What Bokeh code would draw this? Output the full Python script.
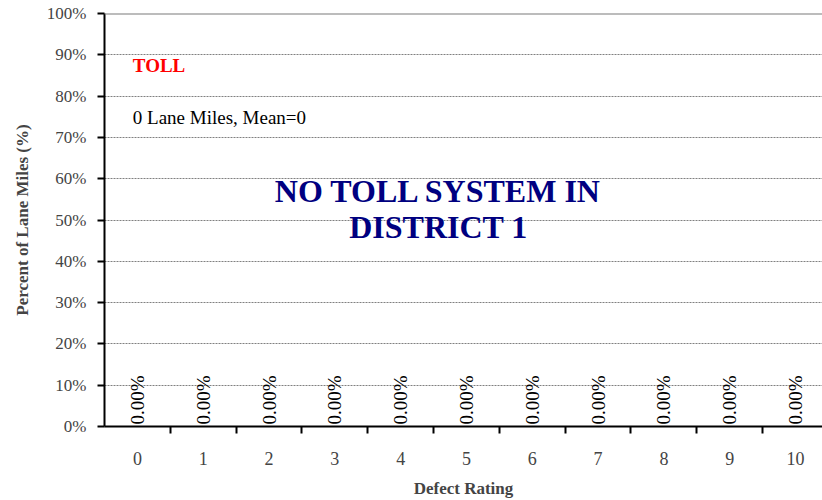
import math
from bokeh.plotting import figure
from bokeh.models import (ColumnDataSource, Range1d, FixedTicker, NumeralTickFormatter,
                          Label, Span)
from bokeh.core.properties import value
from bokeh.embed import file_html
from bokeh.resources import INLINE

# ---- data ----
ratings = [0, 1, 2, 3, 4, 5, 6, 7, 8, 9, 10]
percents = [0.0, 0.0, 0.0, 0.0, 0.0, 0.0, 0.0, 0.0, 0.0, 0.0, 0.0]
y_ticks = [0.0, 0.1, 0.2, 0.3, 0.4, 0.5, 0.6, 0.7, 0.8, 0.9, 1.0]
system_name = "TOLL"
lane_miles = 0
mean_rating = 0
note_lines = ["NO TOLL SYSTEM IN", "DISTRICT 1"]

FONT = "Liberation Serif"

labels = [f"{v * 100:.2f}%" for v in percents]
src = ColumnDataSource(dict(x=ratings, top=percents, lab=labels))

p = figure(width=822, height=500, output_backend="svg", toolbar_location=None,
           x_range=Range1d(-0.5, 10.41), y_range=Range1d(0, 1),
           min_border_left=104, min_border_right=0, min_border_top=13,
           min_border_bottom=72)
p.outline_line_color = None
p.background_fill_color = "white"
p.border_fill_color = "white"

p.vbar(x="x", top="top", bottom=0, width=0.6, source=src,
       fill_color="#9999FF", line_color="black")
p.text(x="x", y="top", text="lab", source=src, angle=math.pi / 2,
       text_align="left", text_baseline="middle", y_offset=-2,
       text_font=value(FONT), text_font_size="19px", text_color="black")

# axes
xa = p.xaxis[0]
xa.ticker = FixedTicker(ticks=ratings, minor_ticks=[r + 0.5 for r in ratings[:-1]])
xa.axis_label = "Defect Rating"
xa.axis_label_text_font = FONT
xa.axis_label_text_font_style = "bold"
xa.axis_label_text_font_size = "17px"
xa.axis_label_standoff = 11
xa.major_label_text_font = FONT
xa.major_label_text_font_size = "18px"
xa.major_label_standoff = 18
xa.major_tick_out = 0
xa.major_tick_in = 0
xa.minor_tick_out = 7
xa.minor_tick_in = 0
xa.minor_tick_line_color = "black"
xa.minor_tick_line_width = 2
xa.axis_line_color = "black"
xa.axis_line_width = 2

ya = p.yaxis[0]
ya.ticker = FixedTicker(ticks=y_ticks, minor_ticks=[])
ya.formatter = NumeralTickFormatter(format="0%")
ya.axis_label = "Percent of Lane Miles (%)"
ya.axis_label_text_font = FONT
ya.axis_label_text_font_style = "bold"
ya.axis_label_text_font_size = "17px"
ya.axis_label_standoff = 12
ya.major_label_text_font = FONT
ya.major_label_text_font_size = "17px"
ya.major_label_standoff = 11
ya.major_tick_out = 7
ya.major_tick_in = 0
ya.major_tick_line_color = "black"
ya.major_tick_line_width = 2
ya.axis_line_color = "black"
ya.axis_line_width = 2

p.xgrid.grid_line_color = None
p.ygrid.ticker = FixedTicker(ticks=y_ticks[1:-1])
p.ygrid.grid_line_color = "#808080"
p.ygrid.grid_line_dash = "2 1"
p.ygrid.grid_line_width = 1
p.add_layout(Span(location=y_ticks[-1], dimension="width",
                  line_color="#7a7a7a", line_width=2))

# annotations
p.add_layout(Label(x=-0.07, y=0.874, text=system_name, text_font=FONT,
                   text_font_style="bold", text_font_size="19px",
                   text_color="red", text_align="left", text_baseline="middle"))
p.add_layout(Label(x=-0.07, y=0.749,
                   text=f"{lane_miles} Lane Miles, Mean={mean_rating}",
                   text_font=FONT, text_font_size="19px", text_color="black",
                   text_align="left", text_baseline="middle"))
for line, yy in zip(note_lines, [0.570, 0.483]):
    p.add_layout(Label(x=4.576, y=yy, text=line, text_font=FONT,
                       text_font_style="bold", text_font_size="32px",
                       text_color="#000080", text_align="center",
                       text_baseline="middle"))

open("out.html", "w").write(file_html(p, INLINE))
